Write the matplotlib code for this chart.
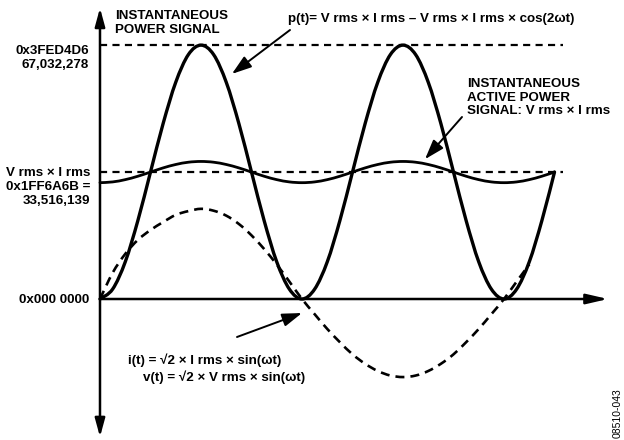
import matplotlib
matplotlib.use('Agg')
import matplotlib.pyplot as plt
import numpy as np
from matplotlib.path import Path
from matplotlib.patches import PathPatch

plt.rcParams['font.family'] = ['Liberation Sans', 'DejaVu Sans']

# register levels (counts)
P_PEAK = 67032278
P_RMS = 33516139

# wt / pi, one sample every pi/16
wt = np.arange(37) / 16.0

# instantaneous power p(t), millions of counts
power = [0.0, 2.6, 9.8, 20.7, 33.5, 46.3, 57.2, 64.5, 67.0, 64.5, 57.2, 46.3, 33.5, 20.7, 9.8, 2.6,
         0.0, 2.6, 9.8, 20.7, 33.5, 46.3, 57.2, 64.5, 67.0, 64.5, 57.2, 46.3, 33.5, 20.7, 9.8, 2.6,
         0.0, 2.6, 9.8, 20.7, 33.5]
# instantaneous active power wave around V rms x I rms
active = [30.7, 30.9, 31.5, 32.4, 33.5, 34.6, 35.5, 36.1, 36.3, 36.1, 35.5, 34.6, 33.5, 32.4, 31.5, 30.9,
          30.7, 30.9, 31.5, 32.4, 33.5, 34.6, 35.5, 36.1, 36.3, 36.1, 35.5, 34.6, 33.5, 32.4, 31.5, 30.9,
          30.7, 30.9, 31.5, 32.4, 33.5]
# i(t) / v(t) dashed sine (scaled)
wave = [0.0, 6.9, 11.9, 15.6, 18.2, 20.3, 22.2, 23.2, 23.8, 23.3, 22.0, 19.8, 16.8, 13.2, 9.1, 4.6,
        0.0, -4.0, -7.9, -11.4, -14.6, -17.1, -19.0, -20.2, -20.6, -20.2, -19.0, -17.1, -14.6, -11.4, -7.9, -4.0,
        0.0, 4.6, 9.1]

level_labels = ['0x3FED4D6\n67,032,278', 'V rms × I rms\n0x1FF6A6B =\n33,516,139', '0x000 0000']


def smooth_curve(ax, x, y, **kw):
    # draw a smooth (Catmull-Rom style) bezier line through the read points
    x = np.asarray(x, float)
    y = np.asarray(y, float)
    pts = np.column_stack([x, y])
    verts = [pts[0]]
    codes = [Path.MOVETO]
    n = len(pts)
    for i in range(n - 1):
        p0 = pts[max(i - 1, 0)]
        p1 = pts[i]
        p2 = pts[i + 1]
        p3 = pts[min(i + 2, n - 1)]
        verts += [p1 + (p2 - p0) / 6.0, p2 - (p3 - p1) / 6.0, p2]
        codes += [Path.CURVE4] * 3
    patch = PathPatch(Path(verts, codes), facecolor='none', edgecolor='black', **kw)
    ax.add_patch(patch)


fig = plt.figure(figsize=(6.24, 4.40), dpi=100)
ax = fig.add_axes([0, 0, 1, 1])
ax.set_xlim(-0.495, 2.594)
ax.set_ylim(-37.21, 78.91)
ax.axis('off')

# axes with arrow heads
ax.annotate('', xy=(0, 76.8), xytext=(0, -36.4),
            arrowprops=dict(arrowstyle='<|-|>,head_length=0.55,head_width=0.15', lw=1.8,
                            color='black', shrinkA=0, shrinkB=0, mutation_scale=20))
ax.annotate('', xy=(2.515, 0), xytext=(0, 0),
            arrowprops=dict(arrowstyle='-|>,head_length=0.65,head_width=0.15', lw=1.8,
                            color='black', shrinkA=0, shrinkB=0, mutation_scale=20))

# reference levels
ax.plot([0, 2.29], [P_PEAK / 1e6, P_PEAK / 1e6], color='black', lw=1.6, dashes=(3.2, 2.4))
ax.plot([0, 2.29], [P_RMS / 1e6, P_RMS / 1e6], color='black', lw=1.6, dashes=(3.2, 2.4))

# the curves
smooth_curve(ax, wt, power, lw=2.4, capstyle='round')
smooth_curve(ax, wt, active, lw=2.0, capstyle='round')
smooth_curve(ax, wt[:len(wave)], wave, lw=1.9, linestyle=(0, (3.4, 2.3)))

fs = 9.6
# level labels on the left (baseline of last line)
ax.text(89, 440 - 67.7, level_labels[0], transform=None, fontsize=fs, fontweight='bold',
        ha='right', va='baseline', linespacing=1.2)
ax.text(90, 440 - 204, level_labels[1], transform=None, fontsize=fs, fontweight='bold',
        ha='right', va='baseline', linespacing=1.2)
ax.text(89, 440 - 302.7, level_labels[2], transform=None, fontsize=fs, fontweight='bold',
        ha='right', va='baseline')

# annotations
ax.text(115, 440 - 32.7, 'INSTANTANEOUS\nPOWER SIGNAL', transform=None, fontsize=fs,
        fontweight='bold', ha='left', va='baseline', linespacing=1.2)
ax.text(288, 440 - 22, 'p(t)= V rms × I rms – V rms × I rms × cos(2ωt)', transform=None,
        fontsize=fs, fontweight='bold', ha='left', va='baseline')
ax.text(466.7, 440 - 114, 'INSTANTANEOUS\nACTIVE POWER\nSIGNAL: V rms × I rms', transform=None,
        fontsize=fs, fontweight='bold', ha='left', va='baseline', linespacing=1.15)
ax.text(127.7, 440 - 364, 'i(t) = √2 × I rms × sin(ωt)', transform=None, fontsize=fs,
        fontweight='bold', ha='left', va='baseline')
ax.text(143, 440 - 381, 'v(t) = √2 × V rms × sin(ωt)', transform=None, fontsize=fs,
        fontweight='bold', ha='left', va='baseline')
ax.text(618, 440 - 413, '08510-043', transform=None, fontsize=7.5, rotation=90,
        ha='center', va='center')

arrow = dict(arrowstyle='-|>,head_length=0.6,head_width=0.2', lw=1.4, color='black',
             shrinkA=0, shrinkB=0, mutation_scale=20)
ax.annotate('', xy=(0.653, 59.4), xytext=(290, 440 - 30), textcoords='figure pixels', arrowprops=arrow)
ax.annotate('', xy=(1.609, 36.9), xytext=(462, 440 - 117), textcoords='figure pixels', arrowprops=arrow)
ax.annotate('', xy=(1.0, -3.7), xytext=(237, 440 - 337), textcoords='figure pixels', arrowprops=arrow)

plt.savefig('out.png', dpi=100)
